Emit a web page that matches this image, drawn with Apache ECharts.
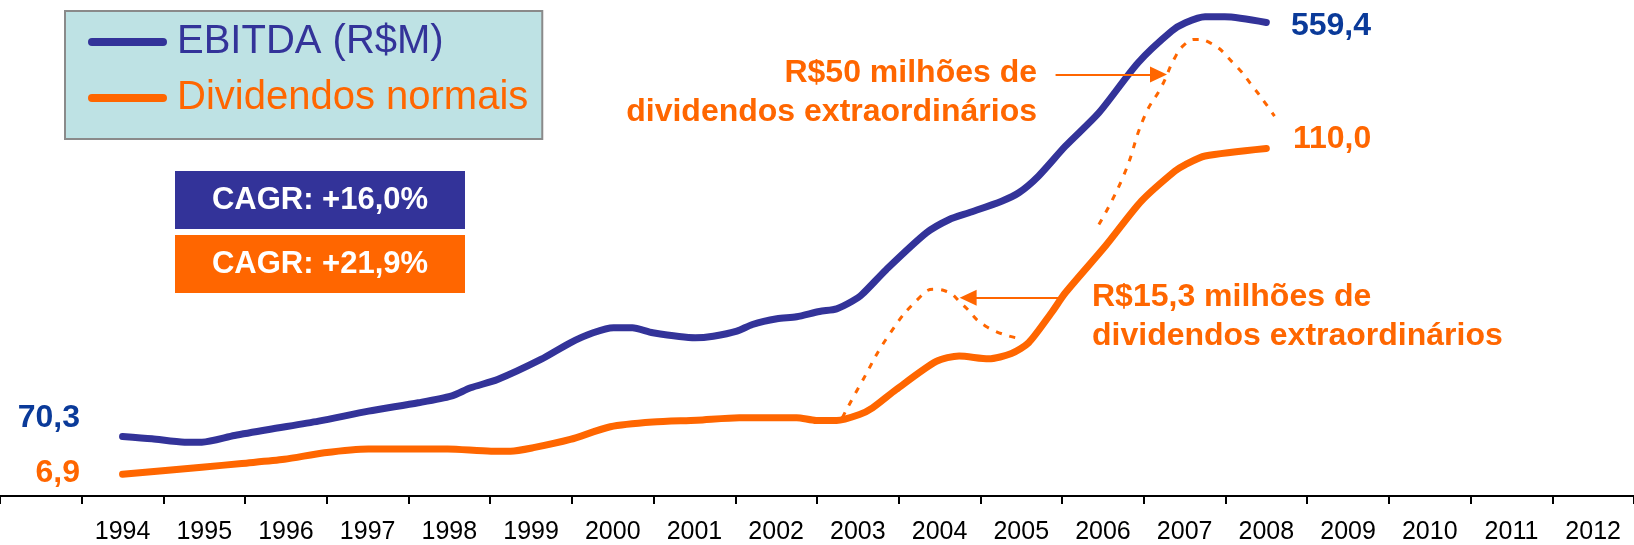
<!DOCTYPE html>
<html>
<head>
<meta charset="utf-8">
<script src="https://cdn.jsdelivr.net/npm/echarts@6/dist/echarts.min.js"></script>
<style>
  html, body { margin: 0; padding: 0; background: #ffffff; }
  #chart { width: 1634px; height: 545px; }
</style>
</head>
<body>
<div id="chart"></div>
<script>
// ---- tick labels ----
const years = ['1994','1995','1996','1997','1998','1999','2000','2001','2002','2003',
               '2004','2005','2006','2007','2008','2009','2010','2011','2012'];

// ---- series values: [year (fractional), value] ----
const ebitda = [
  [1994.00, 70.3], [1994.36, 67.6], [1994.76, 63.6], [1994.97, 63.6], [1995.37, 71.5],
  [1995.79, 78.6], [1996.40, 88.4], [1997.01, 100.2], [1997.62, 110.1], [1998.02, 117.9],
  [1998.26, 127.8], [1998.59, 137.6], [1999.12, 161.3], [1999.48, 181.0], [1999.76, 192.8],
  [2000.01, 198.7], [2000.24, 198.7], [2000.49, 192.8], [2001.01, 186.9], [2001.23, 188.8],
  [2001.52, 194.7], [2001.71, 202.6], [2002.01, 209.3], [2002.25, 211.7], [2002.53, 218.0],
  [2002.74, 221.1], [2002.93, 230.1], [2003.05, 238.0], [2003.35, 267.6], [2003.84, 310.9],
  [2004.12, 326.6], [2004.36, 334.6], [2004.76, 348.3], [2004.97, 358.2], [2005.21, 377.8],
  [2005.54, 413.2], [2005.95, 452.7], [2006.43, 511.8], [2006.84, 549.1], [2007.01, 559.0],
  [2007.25, 566.1], [2007.49, 566.1], [2008.00, 559.4]
];
const dividendos = [
  [1994.00, 6.9], [1994.97, 9.1], [1995.46, 10.3], [1995.98, 11.6], [1996.47, 13.7],
  [1997.01, 14.9], [1997.98, 14.9], [1998.51, 14.2], [1998.75, 14.2], [1999.03, 15.3],
  [1999.48, 17.9], [1999.97, 21.9], [2000.49, 23.4], [2001.03, 24.0], [2001.55, 24.8],
  [2002.25, 24.8], [2002.49, 23.9], [2002.74, 23.9], [2003.02, 25.8], [2003.18, 27.9],
  [2003.47, 33.7], [2003.96, 42.6], [2004.24, 44.3], [2004.60, 43.4], [2004.88, 45.1],
  [2005.09, 48.5], [2005.37, 58.0], [2005.54, 64.3], [2006.03, 79.1], [2006.47, 93.3],
  [2006.88, 102.8], [2007.01, 104.9], [2007.25, 107.6], [2008.00, 110.0]
];
const extra2004 = [
  [2002.81, 24.8], [2003.02, 34.8], [2003.40, 51.7], [2003.77, 63.2], [2003.93, 65.4],
  [2004.08, 64.8], [2004.28, 60.6], [2004.56, 53.8], [2004.93, 50.1]
];
const extra2007 = [
  [2005.95, 85.9], [2006.25, 101.2], [2006.51, 120.2], [2006.72, 129.7], [2006.88, 138.7],
  [2007.00, 142.9], [2007.14, 144.5], [2007.29, 143.7], [2007.61, 136.6], [2007.86, 128.7],
  [2007.98, 124.6], [2008.10, 120.2]
];
// annotation arrows (data coords on dividend axis): [fromYear, toYear, value]
const arrow50 = [2005.42, 2006.68, 133.4];
const arrow153 = [2005.53, 2004.35, 62.7];

const BLUE = '#333399', ORANGE = '#FF6600', NUMBLUE = '#0A3A99';
const FONT = "'Liberation Sans', Arial, sans-serif";

function fmt(v) { return v.toFixed(1).replace('.', ','); }

function withEndLabels(arr, color, first, last) {
  return arr.map((p, i) => {
    if (i === 0) return { value: p, label: Object.assign({ show: true, color: color, fontSize: 32, fontWeight: 'bold', fontFamily: FONT, formatter: (q) => fmt(q.value[1]) }, first) };
    if (i === arr.length - 1) return { value: p, label: Object.assign({ show: true, color: color, fontSize: 32, fontWeight: 'bold', fontFamily: FONT, formatter: (q) => fmt(q.value[1]) }, last) };
    return { value: p };
  });
}

const chart = echarts.init(document.getElementById('chart'), null, { renderer: 'canvas' });

const option = {
  animation: false,
  backgroundColor: '#ffffff',
  grid: { left: -2.5, width: 1640, top: 10, height: 486 },
  xAxis: [
    {
      type: 'category',
      data: [''].concat(years),
      boundaryGap: true,
      axisLine: { lineStyle: { color: '#000', width: 2 } },
      axisTick: { show: true, interval: 0, length: 8, lineStyle: { color: '#000', width: 2 } },
      axisLabel: { interval: 0, color: '#000', fontSize: 25, fontFamily: FONT, margin: 24 },
      splitLine: { show: false }
    },
    { type: 'value', min: 1992.5, max: 2012.5, show: false }
  ],
  yAxis: [
    { type: 'value', min: 0, max: 574.1, show: false, splitLine: { show: false } },
    { type: 'value', min: 0, max: 153.8, show: false, splitLine: { show: false } }
  ],
  legend: {
    left: 65, top: 11,
    orient: 'vertical',
    selectedMode: false,
    data: [
      { name: 'EBITDA (R$M)', textStyle: { color: BLUE } },
      { name: 'Dividendos normais', textStyle: { color: ORANGE } }
    ],
    icon: 'path://M4,0L75,0A4,4,0,0,1,75,8L4,8A4,4,0,0,1,4,0Z',
    itemWidth: 79, itemHeight: 8, itemGap: 8,
    padding: [7, 14, 17, 23],
    backgroundColor: '#BEE2E4', borderColor: '#8A8A8A', borderWidth: 2,
    textStyle: { fontSize: 40, fontFamily: FONT, lineHeight: 48, padding: [0, 0, 0, 5] }
  },
  series: [
    {
      name: 'EBITDA (R$M)', type: 'line', xAxisIndex: 1, yAxisIndex: 0,
      color: BLUE, smooth: 0.25, symbol: 'circle', symbolSize: 0.1, showSymbol: true,
      lineStyle: { width: 7, color: BLUE, cap: 'round', join: 'round' },
      label: { show: false },
      data: withEndLabels(ebitda, NUMBLUE,
        { position: 'left', distance: 42.5, offset: [0, -18] },
        { position: 'right', distance: 24.5, offset: [0, 3.5] }),
      z: 3
    },
    {
      name: 'Dividendos normais', type: 'line', xAxisIndex: 1, yAxisIndex: 1,
      color: ORANGE, smooth: 0.25, symbol: 'circle', symbolSize: 0.1, showSymbol: true,
      lineStyle: { width: 7, color: ORANGE, cap: 'round', join: 'round' },
      label: { show: false },
      data: withEndLabels(dividendos, ORANGE,
        { position: 'left', distance: 42.5, offset: [0, -1] },
        { position: 'right', distance: 26.5, offset: [0, -9.5] }),
      z: 3
    },
    {
      name: 'Dividendos extraordinários 2004', type: 'line', xAxisIndex: 1, yAxisIndex: 1,
      color: ORANGE, smooth: 0.5, symbol: 'none',
      lineStyle: { width: 3, color: ORANGE, type: [6, 8] },
      data: extra2004,
      markLine: {
        silent: true, symbol: ['none', 'triangle'], symbolSize: [16, 17],
        label: { show: false },
        lineStyle: { color: ORANGE, width: 2, type: 'solid' },
        data: [[{ coord: [arrow153[0], arrow153[2]] }, { coord: [arrow153[1], arrow153[2]] }]]
      },
      z: 4
    },
    {
      name: 'Dividendos extraordinários 2007', type: 'line', xAxisIndex: 1, yAxisIndex: 1,
      color: ORANGE, smooth: 0.5, symbol: 'none',
      lineStyle: { width: 3, color: ORANGE, type: [6, 8] },
      data: extra2007,
      markLine: {
        silent: true, symbol: ['none', 'triangle'], symbolSize: [16, 17],
        label: { show: false },
        lineStyle: { color: ORANGE, width: 2, type: 'solid' },
        data: [[{ coord: [arrow50[0], arrow50[2]] }, { coord: [arrow50[1], arrow50[2]] }]]
      },
      z: 4
    }
  ],
  graphic: [
    { type: 'rect', left: 175, top: 171, shape: { width: 290, height: 58 }, style: { fill: BLUE }, z: 10 },
    { type: 'text', x: 320, y: 200, style: { text: 'CAGR: +16,0%', fill: '#fff', font: "bold 31px 'Liberation Sans', Arial, sans-serif", align: 'center', verticalAlign: 'middle' }, z: 11 },
    { type: 'rect', left: 175, top: 235, shape: { width: 290, height: 58 }, style: { fill: ORANGE }, z: 10 },
    { type: 'text', x: 320, y: 264, style: { text: 'CAGR: +21,9%', fill: '#fff', font: "bold 31px 'Liberation Sans', Arial, sans-serif", align: 'center', verticalAlign: 'middle' }, z: 11 },
    { type: 'text', x: 1037, y: 54, style: { text: 'R$50 milhões de\ndividendos extraordinários', fill: ORANGE, font: "bold 32px 'Liberation Sans', Arial, sans-serif", align: 'right', verticalAlign: 'top', lineHeight: 38.5 }, z: 11 },
    { type: 'text', x: 1092, y: 278, style: { text: 'R$15,3 milhões de\ndividendos extraordinários', fill: ORANGE, font: "bold 32px 'Liberation Sans', Arial, sans-serif", align: 'left', verticalAlign: 'top', lineHeight: 38.5 }, z: 11 }
  ]
};

chart.setOption(option);
</script>
</body>
</html>
